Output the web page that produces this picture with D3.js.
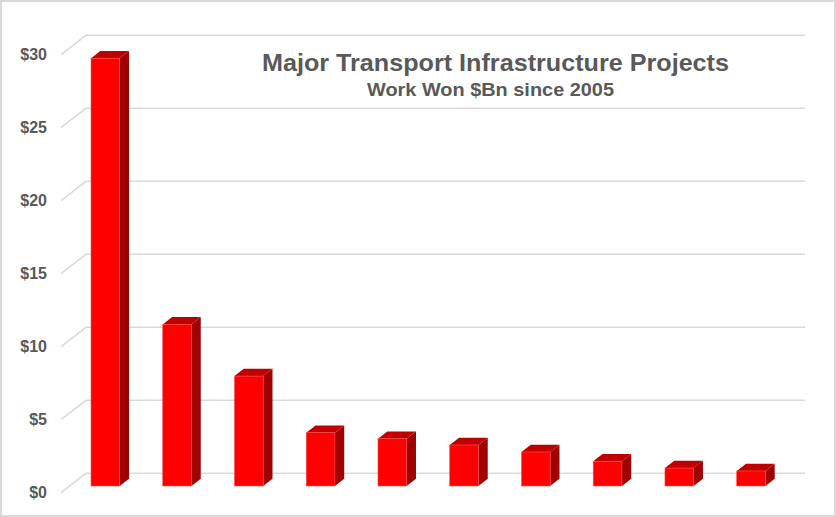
<!DOCTYPE html>
<html>
<head>
<meta charset="utf-8">
<script src="https://cdn.jsdelivr.net/npm/d3@7"></script>
<style>
  body { margin: 0; background: #fff; }
  svg { display: block; font-family: "Liberation Sans", Arial, sans-serif; }
</style>
</head>
<body>
<svg id="chart"></svg>
<script>
const WIDTH = 836;
const HEIGHT = 517;

// data
const projects = ["P1", "P2", "P3", "P4", "P5", "P6", "P7", "P8", "P9", "P10"];
const workWon = [29.3, 11.07, 7.53, 3.65, 3.24, 2.81, 2.33, 1.69, 1.23, 1.03];
const tickValues = [0, 5, 10, 15, 20, 25, 30];
const titleText = "Major Transport Infrastructure Projects";
const subtitleText = "Work Won $Bn since 2005";

// 3d offsets
const DEPTH_X = 9.3, DEPTH_Y = 7.3;   // bar depth
const WALL_X = 25, WALL_Y = 19.4;     // side wall depth

let svg = d3.select('#chart')
    .attr('width', WIDTH)
    .attr('height', HEIGHT);

svg.append('rect')
    .attr('x', 1).attr('y', 1)
    .attr('width', WIDTH - 2).attr('height', HEIGHT - 2)
    .style('fill', '#fff')
    .style('stroke', '#d9d9d9')
    .style('stroke-width', 2);

// front plane (labels), back wall (grid), bar front
const yFront = d3.scaleLinear().domain([0, 30]).range([492.7, 54.7]);
const yBack = d3.scaleLinear().domain([0, 30]).range([yFront(0) - WALL_Y, yFront(30) - WALL_Y]);
const yBar = d3.scaleLinear().domain([0, 30]).range([486, 48]);

const x = d3.scaleBand()
    .domain(projects)
    .range([91, 765.4])
    .paddingInner(0.6)
    .paddingOuter(0);

const axisX = 61;
const wallLeft = axisX + WALL_X;
const wallRight = 805;

// gridlines + side wall diagonals
let grid = svg.append('g').attr('class', 'grid');
grid.selectAll('polyline')
    .data(tickValues)
    .enter()
    .append('polyline')
    .attr('points', d => `${axisX},${yFront(d)} ${wallLeft},${yBack(d)} ${wallRight},${yBack(d)}`)
    .style('fill', 'none')
    .style('stroke', '#d9d9d9')
    .style('stroke-width', 1.5);

// y labels
svg.append('g')
    .selectAll('text')
    .data(tickValues)
    .enter()
    .append('text')
    .attr('x', 47)
    .attr('y', d => yFront(d))
    .attr('dy', '0.35em')
    .attr('text-anchor', 'end')
    .style('font-size', '16px')
    .style('font-weight', 'bold')
    .style('fill', '#595959')
    .text(d => '$' + d);

// bars
let bars = svg.append('g').attr('class', 'bars')
    .selectAll('g')
    .data(projects.map((p, i) => ({name: p, value: workWon[i]})))
    .enter()
    .append('g');

bars.append('path')  // side
    .attr('d', d => {
        const x1 = x(d.name) + x.bandwidth(), y0 = yBar(0), y1 = yBar(d.value);
        return `M${x1},${y0} L${x1 + DEPTH_X},${y0 - DEPTH_Y} L${x1 + DEPTH_X},${y1 - DEPTH_Y} L${x1},${y1} Z`;
    })
    .style('fill', '#a00000');

bars.append('path')  // top
    .attr('d', d => {
        const x0 = x(d.name), x1 = x0 + x.bandwidth(), y1 = yBar(d.value);
        return `M${x0},${y1} L${x0 + DEPTH_X},${y1 - DEPTH_Y} L${x1 + DEPTH_X},${y1 - DEPTH_Y} L${x1},${y1} Z`;
    })
    .style('fill', '#c00000');

bars.append('rect')  // front
    .attr('x', d => x(d.name))
    .attr('y', d => yBar(d.value))
    .attr('width', x.bandwidth())
    .attr('height', d => yBar(0) - yBar(d.value))
    .style('fill', '#ff0000')
    .style('stroke', '#ff5050')
    .style('stroke-width', 0.6);

// titles
svg.append('text')
    .attr('x', 495.5)
    .attr('y', 71)
    .attr('text-anchor', 'middle')
    .attr('textLength', 467)
    .attr('lengthAdjust', 'spacingAndGlyphs')
    .style('font-size', '24px')
    .style('font-weight', 'bold')
    .style('fill', '#595959')
    .text(titleText);

svg.append('text')
    .attr('x', 490.5)
    .attr('y', 95.5)
    .attr('text-anchor', 'middle')
    .attr('textLength', 247)
    .attr('lengthAdjust', 'spacingAndGlyphs')
    .style('font-size', '19px')
    .style('font-weight', 'bold')
    .style('fill', '#595959')
    .text(subtitleText);
</script>
</body>
</html>
